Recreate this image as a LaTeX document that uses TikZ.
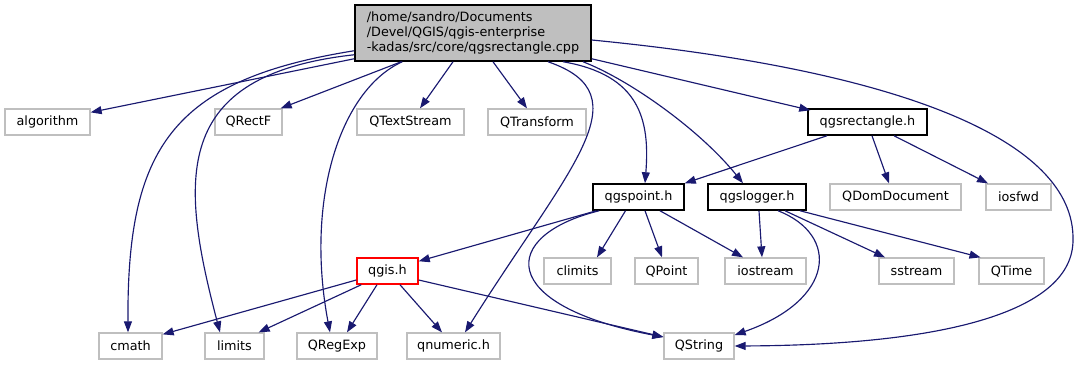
\documentclass[tikz,border=0pt]{standalone}
\usepackage{fontspec}
\setmainfont{DejaVu Sans}
\usetikzlibrary{arrows.meta}
\definecolor{edgeblue}{RGB}{25,25,112}
\definecolor{boxgray}{RGB}{191,191,191}
\definecolor{rootfill}{RGB}{191,191,191}
\tikzset{
  box/.style={draw=boxgray, fill=white, line width=1.3pt, minimum height=26pt,
    inner sep=0pt, font=\fontsize{12.8}{15}\selectfont},
  hdr/.style={box, draw=black, line width=1.5pt},
  hdrred/.style={box, draw=red, line width=1.5pt},
  dep/.style={draw=edgeblue, line width=1.15pt, -{Triangle[length=11pt,width=8pt]}},
}
\begin{document}
\begin{tikzpicture}[x=1pt,y=-1pt]
\useasboundingbox (0,0) rectangle (1079,365);

% source file
\node[hdr, fill=rootfill, minimum width=236pt, minimum height=56pt, align=left]
  (root) at (473,33) {/home/sandro/Documents\\/Devel/QGIS/qgis-enterprise\\-kadas/src/core/qgsrectangle.cpp};

% first level
\node[box, minimum width=85pt]  (algorithm) at (47.5,122) {algorithm};
\node[box, minimum width=67pt]  (QRectF) at (248.5,122) {QRectF};
\node[box, minimum width=107pt] (QTextStream) at (410.5,122) {QTextStream};
\node[box, minimum width=98pt]  (QTransform) at (537,122) {QTransform};
\node[hdr, minimum width=119pt] (qgsrectangle) at (867.5,122) {qgsrectangle.h};

% second level
\node[hdr, minimum width=91pt]  (qgspoint) at (638.5,197) {qgspoint.h};
\node[hdr, minimum width=98pt]  (qgslogger) at (757,197) {qgslogger.h};
\node[box, minimum width=131pt] (QDomDocument) at (895.5,197) {QDomDocument};
\node[box, minimum width=65pt]  (iosfwd) at (1018.5,197) {iosfwd};

% third level
\node[hdrred, minimum width=61pt] (qgis) at (387.5,271) {qgis.h};
\node[box, minimum width=67pt]  (climits) at (577.5,271) {climits};
\node[box, minimum width=63pt]  (QPoint) at (666.5,271) {QPoint};
\node[box, minimum width=81pt]  (iostream) at (765.5,271) {iostream};
\node[box, minimum width=75pt]  (sstream) at (916.5,271) {sstream};
\node[box, minimum width=65pt]  (QTime) at (1011.5,271) {QTime};

% fourth level
\node[box, minimum width=63pt]  (cmath) at (130.5,346) {cmath};
\node[box, minimum width=59pt]  (limits) at (234.5,346) {limits};
\node[box, minimum width=80pt]  (QRegExp) at (337,346) {QRegExp};
\node[box, minimum width=93pt]  (qnumeric) at (453.5,346) {qnumeric.h};
\node[box, minimum width=70pt]  (QString) at (699,346) {QString};

% includes of the source file
\draw[dep] ([yshift=3pt]root.south west) -- ([yshift=-4pt]algorithm.north east);
\draw[dep] ([yshift=11pt]root.south west) .. controls (170,80) and (127,150) .. ([xshift=-2.5pt]cmath.north);
\draw[dep] ([yshift=7pt]root.south west) .. controls (170,75) and (180,180) .. ([xshift=-14.5pt]limits.north);
\draw[dep] ([xshift=47pt]root.south west) -- ([xshift=-2pt]QRectF.north east);
\draw[dep] ([xshift=48pt]root.south west) .. controls (340,90) and (305,200) .. ([xshift=-7pt]QRegExp.north);
\draw[dep] ([xshift=-20pt]root.south) -- ([xshift=9.5pt]QTextStream.north);
\draw[dep] ([xshift=20pt]root.south) -- ([xshift=-10pt]QTransform.north);
\draw[dep] ([xshift=75pt]root.south) .. controls (645,95) and (569,167) .. ([xshift=11.5pt]qnumeric.north);
\draw[dep] ([xshift=90pt]root.south) .. controls (640,75) and (650,120) .. ([xshift=6.5pt]qgspoint.north);
\draw[dep] ([xshift=110pt]root.south) .. controls (630,80) and (700,130) .. ([xshift=-14pt]qgslogger.north);
\draw[dep] ([yshift=3pt]root.south east) -- ([xshift=3pt,yshift=-2pt]qgsrectangle.north west);
\draw[dep] ([yshift=-7pt]root.east) .. controls (900,70) and (1075,140) .. (1073,240)
  .. controls (1073,310) and (950,345) .. (QString.east);

% qgsrectangle.h
\draw[dep] ([xshift=-40.5pt]qgsrectangle.south) -- (qgspoint.north east);
\draw[dep] ([xshift=4.5pt]qgsrectangle.south) -- ([xshift=-6.5pt]QDomDocument.north);
\draw[dep] ([xshift=26.5pt]qgsrectangle.south) -- ([xshift=-30.5pt]iosfwd.north);

% qgspoint.h
\draw[dep] ([xshift=4pt]qgspoint.south west) -- ([yshift=-4pt]qgis.north east);
\draw[dep] ([xshift=7pt]qgspoint.south west) .. controls (500,235) and (495,305) .. ([yshift=9pt]QString.west);
\draw[dep] ([xshift=-13pt]qgspoint.south) -- ([xshift=19.5pt]climits.north);
\draw[dep] ([xshift=6.5pt]qgspoint.south) -- ([xshift=-4.5pt]QPoint.north);
\draw[dep] ([xshift=21.5pt]qgspoint.south) -- ([xshift=-22.5pt]iostream.north);

% qgslogger.h
\draw[dep] ([xshift=2pt]qgslogger.south) -- ([xshift=-3.5pt]iostream.north);
\draw[dep] ([xshift=21pt]qgslogger.south) .. controls (840,235) and (835,300) .. ([yshift=11pt]QString.east);
\draw[dep] ([xshift=28pt]qgslogger.south) -- ([xshift=-31.5pt]sstream.north);
\draw[dep] ([xshift=43pt]qgslogger.south) -- ([xshift=-31pt]QTime.north);

% qgis.h
\draw[dep] ([yshift=-9pt]qgis.west) -- ([yshift=-2pt]cmath.north east);
\draw[dep] ([xshift=5pt]qgis.south west) -- ([xshift=-6pt]limits.north east);
\draw[dep] ([xshift=-10.5pt]qgis.south) -- ([xshift=10pt]QRegExp.north);
\draw[dep] ([xshift=12.5pt]qgis.south) -- ([xshift=-11.5pt]qnumeric.north);
\draw[dep] ([yshift=-9pt]qgis.east) -- ([yshift=9pt]QString.west);
\end{tikzpicture}
\end{document}
